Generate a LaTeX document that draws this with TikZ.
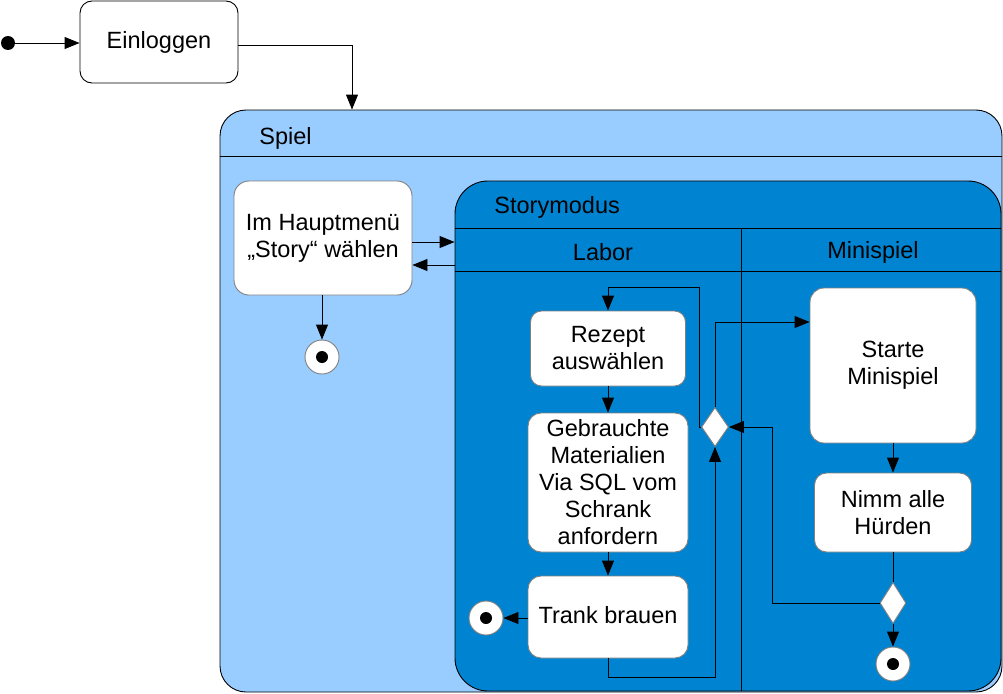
\documentclass[tikz,border=0pt]{standalone}
\usepackage{fontspec}
\setmainfont{Liberation Sans}
\usepackage{tikz}
\usetikzlibrary{arrows.meta, positioning, shapes.geometric}

\definecolor{spielblue}{HTML}{99CCFF}
\definecolor{storyblue}{HTML}{0084D1}
\definecolor{boxgray}{HTML}{808080}

\tikzset{
	flow/.style={-{Triangle[length=15pt, width=12pt]}},
	txt/.style={font=\fontsize{23.5}{27}\selectfont, inner sep=0pt, align=center},
	actbox/.style={txt, shape=rectangle, draw=boxgray, fill=white, rounded corners=13pt},
	endstate/.style={shape=circle, draw=boxgray, fill=white, minimum size=34pt, inner sep=0pt,
		path picture={\fill[black] (path picture bounding box.center) circle (6pt);}},
	choice/.style={shape=diamond, draw=boxgray, fill=white, inner sep=0pt}
}

\begin{document}
\begin{tikzpicture}[x=1pt, y=-1pt, line width=0.9pt]
			\useasboundingbox (0,0) rectangle (1003,693);
			% Start and login:
			\node[shape=circle, fill=black, minimum size=14pt, inner sep=0pt](start) at (8, 43){};
			\node[actbox, draw=black, rounded corners=12pt, minimum width=158pt, minimum height=82pt, text depth=5pt](login) at (159, 42){Einloggen};
			\draw[flow] (start) -- (login.west |- start);
			% Containers:
			\node[shape=rectangle, draw, fill=spielblue, rounded corners=26pt, minimum width=782pt, minimum height=582pt](spiel) at (611, 401){};
			\draw[flow] (login.east |- 0,45) -| (spiel.north -| 352,0);
			\draw (spiel.west |- 0,156) -- (spiel.east |- 0,156);
			\node[txt, anchor=west](spieltitle) at (259, 138){Spiel};
			\node[shape=rectangle, draw, fill=storyblue, rounded corners=33pt, minimum width=546pt, minimum height=510pt](story) at (728, 436){};
			\node[txt, anchor=west](storytitle) at (494, 207){Storymodus};
			\draw (story.west |- 0,228) -- (story.east |- 0,228);
			\draw (story.west |- 0,271) -- (story.east |- 0,271);
			\draw (741, 228) -- (story.south -| 741,0);
			\node[txt](labor) at (603, 252){Labor};
			\node[txt](minispiel) at (873, 252){Minispiel};
			% Main menu:
			\node[actbox, rounded corners=15pt, minimum width=178pt, minimum height=114pt](menu) at (323, 238){Im Hauptmenü\\„Story“ wählen};
			\node[endstate](menuend) at (322, 357){};
			\draw[flow] (menu.south -| menuend) -- (menuend);
			\draw[flow] (menu.east |- 0,242) -- (story.west |- 0,242);
			\draw[flow] (story.west |- 0,265) -- (menu.east |- 0,265);
			% Labor lane:
			\node[actbox, rounded corners=11pt, minimum width=155pt, minimum height=75pt](rezept) at (608, 348.5){Rezept\\auswählen};
			\node[actbox, minimum width=160pt, minimum height=139pt](material) at (608, 482.5){Gebrauchte\\Materialien\\Via SQL vom\\Schrank\\anfordern};
			\node[actbox, minimum width=160pt, minimum height=82pt, text depth=5pt](trank) at (608, 617){Trank brauen};
			\node[endstate](laborend) at (486, 618){};
			\node[choice, minimum width=27pt, minimum height=39pt](merge) at (715, 427){};
			\coordinate (loopturn) at (699, 287);
			\draw[flow] (rezept) -- (material);
			\draw[flow] (material) -- (trank);
			\draw[flow] (trank.west |- laborend) -- (laborend);
			\draw[flow] (merge.west) -| (loopturn) -| (rezept.north);
			\draw[flow] (trank.south) -- ++(0, 19) -| (merge.south);
			% Minispiel lane:
			\node[actbox, rounded corners=14pt, minimum width=166pt, minimum height=155pt](starte) at (893, 365.5){Starte\\Minispiel};
			\node[actbox, rounded corners=12pt, minimum width=157pt, minimum height=79pt](huerden) at (893, 512.5){Nimm alle\\Hürden};
			\node[choice, minimum width=26pt, minimum height=41pt](check) at (893, 603){};
			\node[endstate](miniend) at (893, 664){};
			\coordinate (backturn) at (772, 427);
			\draw[flow] (merge.north) |- (starte.west |- 0,322);
			\draw[flow] (starte) -- (huerden);
			\draw (huerden) -- (check);
			\draw[flow] (check) -- (miniend);
			\draw[flow] (check.west) -| (backturn) -- (merge.east);
		\end{tikzpicture}
\end{document}
